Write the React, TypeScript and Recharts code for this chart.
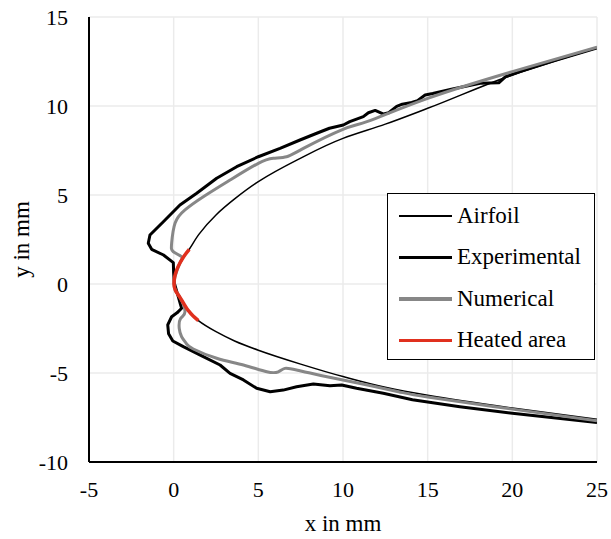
import React from "react";
import {
  LineChart,
  Line,
  XAxis,
  YAxis,
  CartesianGrid,
} from "recharts";

// values (mm)
const xTicks = [-5, 0, 5, 10, 15, 20, 25];
const yTicks = [-10, -5, 0, 5, 10, 15];

const airfoil = [
  { x: 25, y: 13.26 }, { x: 20, y: 11.74 }, { x: 15, y: 9.87 }, { x: 12.5, y: 8.98 },
  { x: 10, y: 8.18 }, { x: 7.3, y: 6.97 }, { x: 5, y: 5.75 }, { x: 3.6, y: 4.78 },
  { x: 2.5, y: 3.88 }, { x: 1.5, y: 2.8 }, { x: 0.92, y: 1.95 }, { x: 0.37, y: 1.18 },
  { x: 0.08, y: 0.41 }, { x: 0.02, y: 0 }, { x: 0.1, y: -0.35 }, { x: 0.37, y: -0.75 },
  { x: 0.87, y: -1.5 }, { x: 1.46, y: -2.06 }, { x: 2.5, y: -2.68 }, { x: 3.6, y: -3.2 },
  { x: 5, y: -3.72 }, { x: 7.5, y: -4.5 }, { x: 10, y: -5.2 }, { x: 12.5, y: -5.8 },
  { x: 15, y: -6.25 }, { x: 20, y: -6.97 }, { x: 25, y: -7.6 },
];

const experimental = [
  { x: 25, y: 13.26 }, { x: 22.5, y: 12.55 }, { x: 20.46, y: 11.93 }, { x: 19.6, y: 11.65 },
  { x: 19.2, y: 11.3 }, { x: 18.1, y: 11.28 }, { x: 16.4, y: 10.94 }, { x: 15.3, y: 10.7 },
  { x: 14.85, y: 10.62 }, { x: 14.4, y: 10.3 }, { x: 14.06, y: 10.2 }, { x: 13.5, y: 10.1 },
  { x: 13.17, y: 9.98 }, { x: 12.7, y: 9.62 }, { x: 12.4, y: 9.55 }, { x: 11.9, y: 9.75 },
  { x: 11.5, y: 9.62 }, { x: 11.2, y: 9.4 }, { x: 10.4, y: 9.12 }, { x: 10.02, y: 8.93 },
  { x: 9.2, y: 8.75 }, { x: 8.45, y: 8.47 }, { x: 7.46, y: 8.09 }, { x: 6.28, y: 7.62 },
  { x: 5, y: 7.15 }, { x: 3.72, y: 6.59 }, { x: 2.54, y: 5.94 }, { x: 1.36, y: 5.1 },
  { x: 0.37, y: 4.44 }, { x: -0.61, y: 3.5 }, { x: -1.4, y: 2.75 }, { x: -1.5, y: 2.29 },
  { x: -1.3, y: 1.95 }, { x: -0.6, y: 1.63 }, { x: -0.02, y: 1.2 }, { x: 0.0, y: 0.6 },
  { x: 0.04, y: 0.04 }, { x: 0.27, y: -0.71 }, { x: 0.47, y: -1.36 }, { x: 0.2, y: -1.62 },
  { x: -0.12, y: -1.84 }, { x: -0.35, y: -2.3 }, { x: -0.3, y: -2.8 }, { x: -0.05, y: -3.2 },
  { x: 0.57, y: -3.52 }, { x: 1.75, y: -4.08 }, { x: 2.74, y: -4.55 }, { x: 3.33, y: -5.02 },
  { x: 4.12, y: -5.39 }, { x: 4.9, y: -5.86 }, { x: 5.7, y: -6.05 }, { x: 6.47, y: -5.96 },
  { x: 7.26, y: -5.77 }, { x: 8.25, y: -5.62 }, { x: 9.23, y: -5.71 }, { x: 9.92, y: -5.67 },
  { x: 10.8, y: -5.86 }, { x: 12.38, y: -6.14 }, { x: 14.1, y: -6.5 }, { x: 16.9, y: -6.89 },
  { x: 20, y: -7.26 }, { x: 25, y: -7.78 },
];

const numerical = [
  { x: 25, y: 13.3 }, { x: 20, y: 11.93 }, { x: 15, y: 10.43 }, { x: 11.5, y: 9.15 },
  { x: 10, y: 8.69 }, { x: 7.66, y: 7.62 }, { x: 6.67, y: 7.15 }, { x: 5.89, y: 7.06 },
  { x: 5, y: 6.78 }, { x: 3.33, y: 5.84 }, { x: 1.75, y: 4.9 }, { x: 0.67, y: 4.16 },
  { x: 0.08, y: 3.41 }, { x: -0.12, y: 2.29 }, { x: -0.02, y: 1.81 }, { x: 0.47, y: 1.53 },
  { x: 0.37, y: 1.18 }, { x: 0.08, y: 0.41 }, { x: 0.02, y: 0 }, { x: 0.1, y: -0.35 },
  { x: 0.37, y: -0.75 }, { x: 0.67, y: -1.56 }, { x: 0.4, y: -1.95 }, { x: 0.33, y: -2.5 },
  { x: 0.47, y: -2.96 }, { x: 0.75, y: -3.35 }, { x: 1.16, y: -3.65 }, { x: 2.54, y: -4.17 },
  { x: 4.12, y: -4.55 }, { x: 5.5, y: -4.93 }, { x: 6.18, y: -4.93 }, { x: 6.57, y: -4.74 },
  { x: 7.26, y: -4.83 }, { x: 8.5, y: -5.1 }, { x: 10, y: -5.39 }, { x: 13.27, y: -6.05 },
  { x: 15, y: -6.35 }, { x: 20, y: -7.03 }, { x: 25, y: -7.68 },
];

const heatedArea = [
  { x: 0.92, y: 1.95 }, { x: 0.6, y: 1.55 }, { x: 0.37, y: 1.18 }, { x: 0.18, y: 0.8 },
  { x: 0.06, y: 0.4 }, { x: 0.02, y: 0 }, { x: 0.1, y: -0.35 }, { x: 0.37, y: -0.75 },
  { x: 0.6, y: -1.1 }, { x: 0.87, y: -1.5 }, { x: 1.15, y: -1.8 }, { x: 1.46, y: -2.06 },
];

const font = "'Liberation Serif', 'Times New Roman', serif";

const legendItems = [
  { name: "Airfoil", color: "#000000", width: 1.5 },
  { name: "Experimental", color: "#000000", width: 3.5 },
  { name: "Numerical", color: "#878787", width: 3.5 },
  { name: "Heated area", color: "#e0301e", width: 3.5 },
];

// boxed legend sitting on top of the plot, like the spreadsheet original
const BoxLegend = () => (
  <div
    style={{
      position: "absolute",
      left: 387,
      top: 193,
      width: 208,
      height: 167,
      border: "1.5px solid #000",
      background: "#fff",
      fontFamily: font,
      fontSize: 23,
      boxSizing: "border-box",
      paddingTop: 1,
    }}
  >
    {legendItems.map((item) => (
      <div
        key={item.name}
        style={{ display: "flex", alignItems: "center", height: 41.5, paddingLeft: 11 }}
      >
        <div
          style={{
            width: 53,
            height: item.width,
            background: item.color,
            marginRight: 5,
          }}
        />
        <span>{item.name}</span>
      </div>
    ))}
  </div>
);

const tickStyle = { fill: "#000", fontFamily: font, fontSize: 22 };

export default function App() {
  return (
    <div style={{ position: "absolute", left: 0, top: 0, width: 611, height: 539, background: "#fff" }}>
      <LineChart width={611} height={539} margin={{ top: 17, right: 14, left: 0, bottom: 0 }}>
        <CartesianGrid stroke="#ebebeb" strokeWidth={1.5} />
        <XAxis
          type="number"
          dataKey="x"
          domain={[-5, 25]}
          ticks={xTicks}
          allowDataOverflow
          height={77}
          tickLine={false}
          tickSize={0}
          tickMargin={19}
          tick={tickStyle}
          axisLine={{ stroke: "#000", strokeWidth: 2 }}
          label={{ value: "x in mm", position: "center", dy: 22, fill: "#000", fontFamily: font, fontSize: 23 }}
        />
        <YAxis
          type="number"
          dataKey="y"
          domain={[-10, 15]}
          ticks={yTicks}
          allowDataOverflow
          width={89}
          tickLine={false}
          tickSize={0}
          tickMargin={21}
          tick={tickStyle}
          axisLine={{ stroke: "#000", strokeWidth: 2 }}
          label={{ value: "y in mm", angle: -90, position: "center", dx: -24, fill: "#000", fontFamily: font, fontSize: 23 }}
        />
        <Line
          data={airfoil}
          dataKey="y"
          name="Airfoil"
          type="monotoneY"
          stroke="#000"
          strokeWidth={1.5}
          dot={false}
          activeDot={false}
          isAnimationActive={false}
        />
        <Line
          data={experimental}
          dataKey="y"
          name="Experimental"
          type="linear"
          stroke="#000"
          strokeWidth={3}
          strokeLinejoin="round"
          dot={false}
          activeDot={false}
          isAnimationActive={false}
        />
        <Line
          data={numerical}
          dataKey="y"
          name="Numerical"
          type="natural"
          stroke="#878787"
          strokeWidth={3}
          dot={false}
          activeDot={false}
          isAnimationActive={false}
        />
        <Line
          data={heatedArea}
          dataKey="y"
          name="Heated area"
          type="monotoneY"
          stroke="#e0301e"
          strokeWidth={3.5}
          dot={false}
          activeDot={false}
          isAnimationActive={false}
        />
      </LineChart>
      <BoxLegend />
    </div>
  );
}
